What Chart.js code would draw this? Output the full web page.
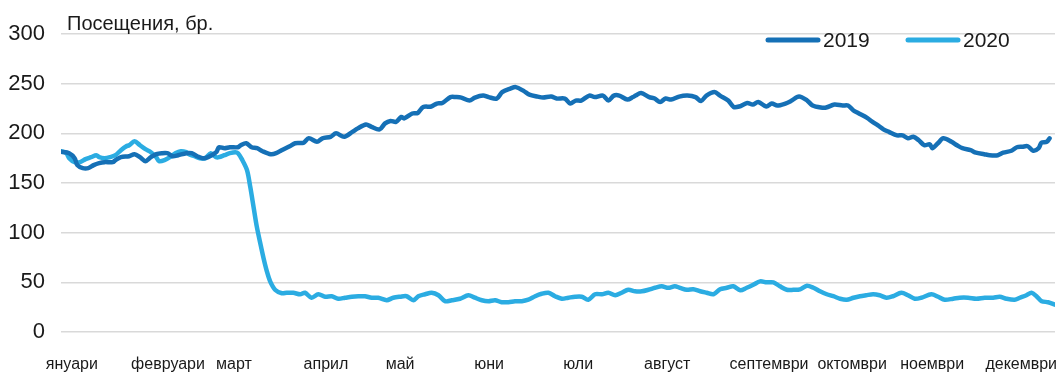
<!DOCTYPE html>
<html>
<head>
<meta charset="utf-8">
<script src="https://cdn.jsdelivr.net/npm/chart.js@4.4.1/dist/chart.umd.min.js"></script>
<style>
  html, body { margin: 0; padding: 0; background: #ffffff; }
  #wrap { width: 1058px; height: 374px; position: relative; }
</style>
</head>
<body>
<div id="wrap"><canvas id="c"></canvas></div>
<script>
// ---- Data (day of year, visits) ----
const monthNames = ["януари","февруари","март","април","май","юни","юли","август","септември","октомври","ноември","декември"];
const monthTickDays = [4, 39.3, 63.5, 97.3, 124.5, 157.2, 189.9, 222.6, 260, 290.5, 319.9, 352.6];
const yTicks = [0, 50, 100, 150, 200, 250, 300];

const days2019 = [0,3,5,6,8,10,12,14,16,19,20,22,25,27,29,31,33,35,37,39,41,43,46,48,50,52,54,57,58,60,62,65,66,68,70,72,74,77,79,81,84,86,89,91,94,96,99,101,104,107,109,112,114,117,119,121,123,125,126,129,131,133,136,138,140,143,145,147,150,152,155,157,160,162,165,167,170,172,175,177,180,182,185,187,189,191,194,196,199,201,203,205,208,210,211,213,216,218,220,222,224,227,230,233,235,237,240,242,245,247,249,252,254,256,259,261,263,266,268,271,274,276,279,281,284,287,289,291,293,296,298,300,302,304,307,309,311,313,315,317,319,320,322,324,327,329,331,334,336,339,341,344,346,349,351,353,355,357,359,360,362,363];
const visits2019 = [181.5,180,175,168,165,165,168,170,171,171,173,176,177,179,176,172,176,179,180,180,177,178,180,180,177,175,176,181,186,185,186,186,188,190,186,185,182,179,180,183,187,190,190.5,195,191.5,195,196.5,200,196.5,201.5,205,209,206.5,204,210,212.5,211.5,216.5,215,220,220.5,226.5,227,230,230.5,236.5,236.5,236,233,236,238,236.5,235,241.5,245,246.5,242.5,239,237,236,237,235,235,230,233,233,238,236.5,238,233,238,238,234,236.5,238,240.5,236.5,235,231.5,235,234,237,238,236.5,232.5,238,241.5,238,233,226.5,227,230.5,229,231.5,227,230,228,230,232.5,237,233,228,226,226,229,228,228,223,220,215.5,211.5,208,204,201.5,198,198,195,196.5,193,188,189,185,190,195,191.5,188,185,183,180.5,179,178,178,180.5,182.5,186,186.5,187,182.5,185,190.5,191.5,195];

const days2020 = [0,2,3,5,7,9,11,13,14,16,18,20,22,24,25,27,29,31,33,35,36,38,40,42,44,46,47,49,51,53,55,57,58,60,62,64,65,66.4,68.3,69.5,70.7,71.9,73.2,74.4,75.6,76.8,78.7,81.1,82.9,85.3,87.8,89.6,92,94.5,97,99.4,101.8,104.3,106.8,109.2,111.6,114.1,116.5,119.6,122,124.5,126.9,129.4,131.2,133.7,136.1,138.6,141,143.5,146.5,149.6,152,154.5,156.9,159.4,161.8,164.3,166.7,169.2,171.6,174.1,176.5,179,181.4,183.9,186.3,188.8,191.2,193.6,196.1,198.6,201,203.5,205.9,208.3,210.8,213.3,215.7,218.1,220.6,223,225.4,227.3,229.8,232.2,234.7,237.1,239.6,242,244.5,246.9,249.4,251.8,254.2,256.7,259.1,261.6,264,266.5,268.9,271.4,273.9,276.3,278.7,281.2,283.6,286.1,288.5,291,293.4,295.7,298.2,300.6,303.1,305.5,308.6,311,313.5,315.9,319.6,322.1,324.5,327.6,330,333.1,336.1,339.2,342.3,344.7,347.2,350.2,352.1,354.5,356.4,358.2,360.1,362.5,365];
const visits2020 = [182,180,175,171,171,174,176,178,176,175,176,178,183,187,188,192,188,184,181,176,172,173,176,180,182,181,179,177,175,175,180,176,176,178,180,181,180,174,163,146,126,106,89,74,61,51,42.3,39,39.5,39.5,38,39.5,34.5,38,35.5,36,33.5,34.5,35.5,36,36,34.5,34.5,32,34.5,35.5,36,32,36,38,39.5,37,31,32,33.5,37,34.5,32,31,32,30,30,31,31,32.5,36,38.5,39.5,36,33.5,34.5,35.5,35.5,32.5,38,38,39.5,37,39.5,42.5,41,41,42.5,44.5,46,44.5,46,44.5,42.5,43,41,39.5,38,43,44.5,46,42,44.5,47.5,51,50,50,46,42.5,42.5,43,46.5,44.5,41,38,36,33.5,32.5,34.5,36,37,38,37,34.5,36,39.5,37,33.5,34.5,38,35.5,32.5,33.5,34.5,34.5,33.5,34.5,34.5,35.5,33.5,32.5,34.5,37,39.5,36,31,30,27.5];

const seriesLabels = ["2019", "2020"];
const seriesColors = ["#1570B6", "#2BACE2"];
const titleText = "Посещения, бр.";

const toPoints = (xs, ys) => xs.map((d, i) => ({ x: d, y: ys[i] }));

const REGULAR = "'Liberation Sans', Arial, sans-serif";

const overlayPlugin = {
  id: 'overlay',
  afterDraw(chart) {
    const ctx = chart.ctx;
    const area = chart.chartArea;
    ctx.save();
    // axis title at top-left
    ctx.fillStyle = '#1a1a1a';
    ctx.font = "20px " + REGULAR;
    ctx.textAlign = 'left';
    ctx.textBaseline = 'alphabetic';
    ctx.fillText(titleText, area.left + 6, 30);
    // legend (inside plot, top right)
    ctx.font = "21px " + REGULAR;
    ctx.textBaseline = 'middle';
    const starts = [area.right - 287, area.right - 147];
    chart.data.datasets.forEach((ds, i) => {
      const x0 = starts[i];
      const y = 40;
      ctx.strokeStyle = ds.borderColor;
      ctx.lineWidth = 5;
      ctx.lineCap = 'round';
      ctx.beginPath();
      ctx.moveTo(x0, y);
      ctx.lineTo(x0 + 50, y);
      ctx.stroke();
      ctx.fillStyle = '#1a1a1a';
      ctx.fillText(ds.label, x0 + 55, y + 1);
    });
    ctx.restore();
  }
};

new Chart(document.getElementById('c'), {
  type: 'line',
  data: {
    datasets: [
      { label: seriesLabels[0], data: toPoints(days2019, visits2019), borderColor: seriesColors[0], backgroundColor: seriesColors[0] },
      { label: seriesLabels[1], data: toPoints(days2020, visits2020), borderColor: seriesColors[1], backgroundColor: seriesColors[1] }
    ]
  },
  options: {
    responsive: true,
    maintainAspectRatio: false,
    animation: false,
    layout: { padding: { top: 34, right: 3, bottom: 0, left: 0 } },
    elements: {
      line: { borderWidth: 4.5, tension: 0.3, borderCapStyle: 'round', borderJoinStyle: 'round' },
      point: { radius: 0, hoverRadius: 0 }
    },
    plugins: {
      legend: { display: false },
      title: { display: false },
      tooltip: { enabled: false }
    },
    scales: {
      x: {
        type: 'linear',
        min: 0,
        max: 365,
        grid: { display: false, drawTicks: false },
        border: { display: false },
        afterBuildTicks: (scale) => { scale.ticks = monthTickDays.map(v => ({ value: v })); },
        afterFit: (scale) => { scale.height = 42; scale.paddingLeft = 0; scale.paddingRight = 0; },
        ticks: {
          autoSkip: false,
          maxRotation: 0,
          padding: 23,
          color: '#1a1a1a',
          font: { family: REGULAR, size: 16 },
          callback: (v, i) => monthNames[i]
        }
      },
      y: {
        min: 0,
        max: 300,
        afterBuildTicks: (scale) => { scale.ticks = yTicks.map(v => ({ value: v })); },
        afterFit: (scale) => { scale.width = 61; },
        grid: { color: '#d9d9d9', lineWidth: 1.6, drawTicks: false },
        border: { display: false },
        ticks: {
          padding: 16,
          color: '#1a1a1a',
          font: { family: REGULAR, size: 22 }
        }
      }
    }
  },
  plugins: [overlayPlugin]
});
</script>
</body>
</html>
